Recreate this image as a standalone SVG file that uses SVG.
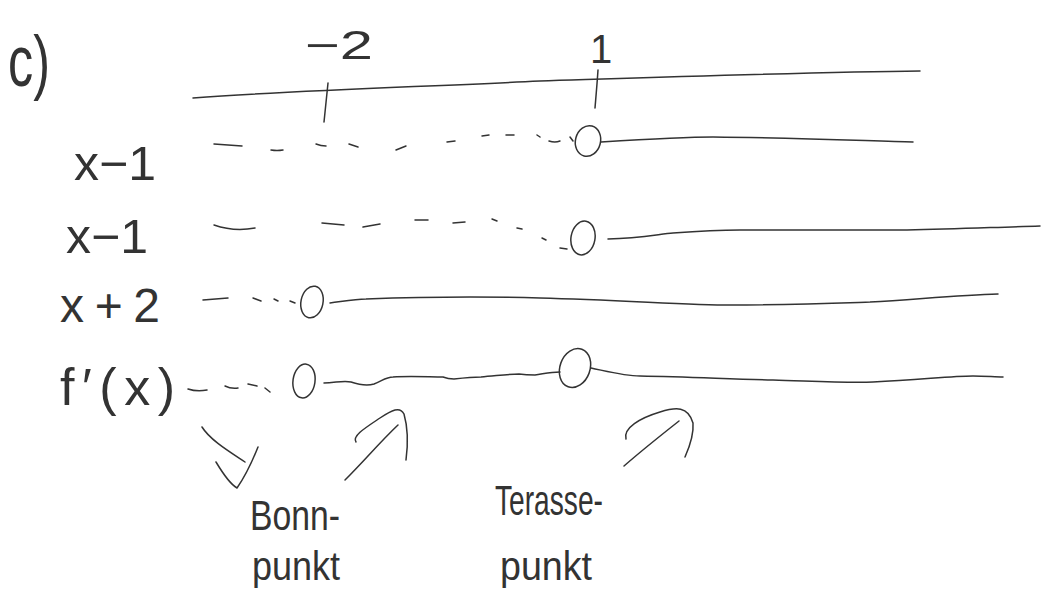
<svg xmlns="http://www.w3.org/2000/svg" width="1043" height="592" viewBox="0 0 1043 592">
<style>
.s{fill:none;stroke:#333;stroke-width:1.5;stroke-linecap:round;stroke-linejoin:round}
.t{font-family:"Liberation Sans",Arial,sans-serif;fill:#333;font-weight:300}
</style>
<rect width="1043" height="592" fill="#fff"/>
<g id="title"><text class="t" x="8" y="86" font-size="72" textLength="42" lengthAdjust="spacingAndGlyphs">c)</text></g>
<g id="axis">
<path class="s" d="M193,98 C300,90 420,87 540,81 C700,76 820,72 920,71"/>
<path class="s" d="M328,83 L324,122"/>
<path class="s" d="M598,70 C597,85 596,96 595,108"/>
<text class="t" x="305" y="59" font-size="40" textLength="68" lengthAdjust="spacingAndGlyphs">−2</text>
<text class="t" x="590" y="63" font-size="40">1</text>
</g>
<g id="row1">
<text class="t" x="74" y="180" font-size="48" textLength="82" lengthAdjust="spacingAndGlyphs">x−1</text>
<ellipse class="s" cx="588" cy="141" rx="12.5" ry="15.5" transform="rotate(15 588 141)"/>
</g>
<g id="row2">
<text class="t" x="66" y="253" font-size="48" textLength="82" lengthAdjust="spacingAndGlyphs">x−1</text>
<ellipse class="s" cx="583" cy="238" rx="12" ry="17" transform="rotate(10 583 238)"/>
</g>
<g id="row3">
<text class="t" x="60" y="322" font-size="48" textLength="100" lengthAdjust="spacing">x+2</text>
<ellipse class="s" cx="312" cy="302" rx="11" ry="16" transform="rotate(12 312 302)"/>
</g>
<g id="row4">
<text class="t" x="60" y="405" font-size="52" textLength="115" lengthAdjust="spacing">f′(x)</text>
<ellipse class="s" cx="304" cy="381" rx="11" ry="17" transform="rotate(8 304 381)"/>
<ellipse class="s" cx="575" cy="368" rx="15" ry="20" transform="rotate(20 575 368)"/>
</g>
<g id="connectors">
<path class="s" d="M214,144 L242,146 M271,150 Q277,151 283,150 M316,144 Q321,146 326,146 M349,144 L358,147 M396,150 L406,146 M447,142 L455,141 M482,136 L489,135 M506,135 L514,135 M537,135 L540,137 M549,141 Q555,143 560,141 M570,137 L573,141"/>
<path class="s" d="M601,142 C650,139 690,137 713,137 C800,138 870,141 913,142"/>
<path class="s" d="M214,225 Q234,232 255,228 M322,223 L344,225 M363,227 L380,224 M415,220 L428,220 M453,223 L465,222 M492,219 L497,221 M517,228 L522,229 M542,238 L546,240 M560,248 L567,249"/>
<path class="s" d="M608,239 C640,238 660,234 673,233 C700,231 720,230 740,230 L907,230 C960,229 1000,227 1040,226"/>
<path class="s" d="M203,300 L228,298 M253,298 L261,301 M274,299 L278,301 M290,301 L295,303"/>
<path class="s" d="M330,303 C345,301 355,299 366,299 C420,297 470,296 540,298 C620,300 690,305 730,305 C790,305 840,303 870,302 C920,299 960,295 998,294"/>
<path class="s" d="M188,389 Q197,392 207,390 M225,386 Q231,389 238,388 M248,384 L257,386 M265,388 L270,392"/>
<path class="s" d="M324,383 C335,383 343,380 351,382 C360,385 367,386 374,384 C382,381 386,377 393,377 C410,376 430,377 443,377 C448,379 451,379 454,379 C463,378 472,377 481,377 C495,376 508,374 519,374 C526,375 531,375 535,375 C543,374 550,372 560,372"/>
<path class="s" d="M591,368 C610,372 625,376 640,376 C690,377 730,379 773,380 C810,381 845,383 873,382 C920,380 950,376 973,376 C985,376 995,377 1003,377"/>
<path class="s" d="M202,427 C210,440 230,452 245,462"/>
<path class="s" d="M216,462 C222,472 230,484 237,488 C244,478 252,462 258,447"/>
<path class="s" d="M345,480 C365,460 380,442 398,425"/>
<path class="s" d="M356,442 C352,436 365,428 380,418 C392,410 400,406 404,414 C408,428 408,445 406,460"/>
<path class="s" d="M624,466 C640,452 660,436 679,421"/>
<path class="s" d="M626,439 C623,428 640,418 660,412 C676,407 688,406 693,423 C694,435 689,448 685,457"/>
</g>
<g id="labels">
<text class="t" x="250" y="530" font-size="42" textLength="90" lengthAdjust="spacingAndGlyphs">Bonn-</text>
<text class="t" x="252" y="580" font-size="40" textLength="88" lengthAdjust="spacingAndGlyphs">punkt</text>
<text class="t" x="495" y="515" font-size="42" textLength="108" lengthAdjust="spacingAndGlyphs">Terasse-</text>
<text class="t" x="500" y="580" font-size="40" textLength="92" lengthAdjust="spacingAndGlyphs">punkt</text>
</g>
</svg>
